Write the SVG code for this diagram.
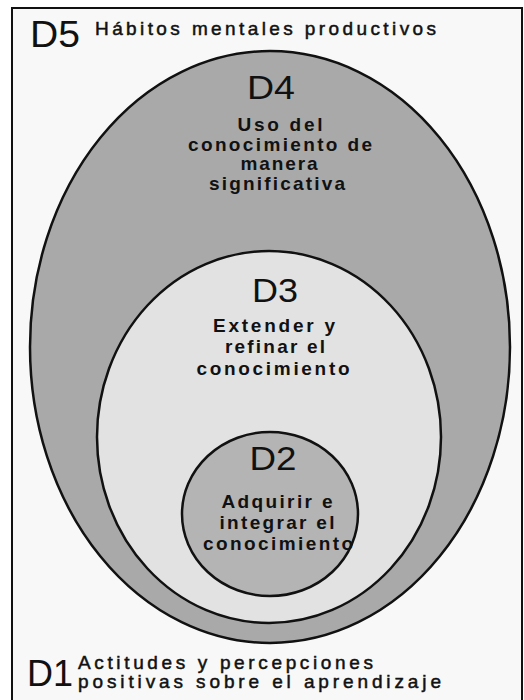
<svg xmlns="http://www.w3.org/2000/svg" width="524" height="700" viewBox="0 0 524 700">
<style>
.lbl{font-family:"Liberation Sans",Arial,sans-serif;fill:#111}
.big{font-size:37px}
.mid{font-size:33px;text-anchor:middle}
.t{font-size:19px;font-weight:bold;text-anchor:middle}
.h{font-size:19px;stroke:#111;stroke-width:0.5}
.e{stroke:#111;stroke-width:2.5}
</style>
<rect width="524" height="700" fill="#fff"/>
<g id="D5">
<rect x="12" y="8" width="510" height="700" fill="#f8f8f8" stroke="#111" stroke-width="2"/>
<text class="lbl big" x="30" y="47" textLength="50" lengthAdjust="spacingAndGlyphs">D5</text>
<text class="lbl h" x="95" y="35" textLength="341" lengthAdjust="spacing">Hábitos mentales productivos</text>
</g>
<g id="D4">
<ellipse class="e" cx="270" cy="347" rx="240" ry="296" fill="#a9a9a9"/>
<text class="lbl mid" x="271" y="99" textLength="48" lengthAdjust="spacingAndGlyphs">D4</text>
<text class="lbl t" x="280" y="131" textLength="85" lengthAdjust="spacing">Uso del</text>
<text class="lbl t" x="280" y="151" textLength="184" lengthAdjust="spacing">conocimiento de</text>
<text class="lbl t" x="279" y="170" textLength="77" lengthAdjust="spacing">manera</text>
<text class="lbl t" x="277" y="190" textLength="136" lengthAdjust="spacing">significativa</text>
</g>
<g id="D3">
<ellipse class="e" cx="269" cy="437" rx="172" ry="186" fill="#e2e2e2"/>
<text class="lbl mid" x="275" y="302" textLength="46" lengthAdjust="spacingAndGlyphs">D3</text>
<text class="lbl t" x="274" y="332" textLength="122" lengthAdjust="spacing">Extender y</text>
<text class="lbl t" x="275" y="353" textLength="100" lengthAdjust="spacing">refinar el</text>
<text class="lbl t" x="273" y="375" textLength="153" lengthAdjust="spacing">conocimiento</text>
</g>
<g id="D2">
<ellipse class="e" cx="270" cy="514" rx="88" ry="82" fill="#b4b4b4"/>
<text class="lbl mid" x="273" y="470" textLength="47" lengthAdjust="spacingAndGlyphs">D2</text>
<text class="lbl t" x="277" y="508" textLength="111" lengthAdjust="spacing">Adquirir e</text>
<text class="lbl t" x="277" y="529" textLength="115" lengthAdjust="spacing">integrar el</text>
<text class="lbl t" x="278" y="550" textLength="150" lengthAdjust="spacing">conocimiento</text>
</g>
<g id="D1">
<text class="lbl big" x="27" y="686" textLength="46" lengthAdjust="spacingAndGlyphs">D1</text>
<text class="lbl h" x="78" y="669" textLength="295" lengthAdjust="spacing">Actitudes y percepciones</text>
<text class="lbl h" x="78" y="688" textLength="363" lengthAdjust="spacing">positivas sobre el aprendizaje</text>
</g>
<g id="connectors"/>
</svg>
